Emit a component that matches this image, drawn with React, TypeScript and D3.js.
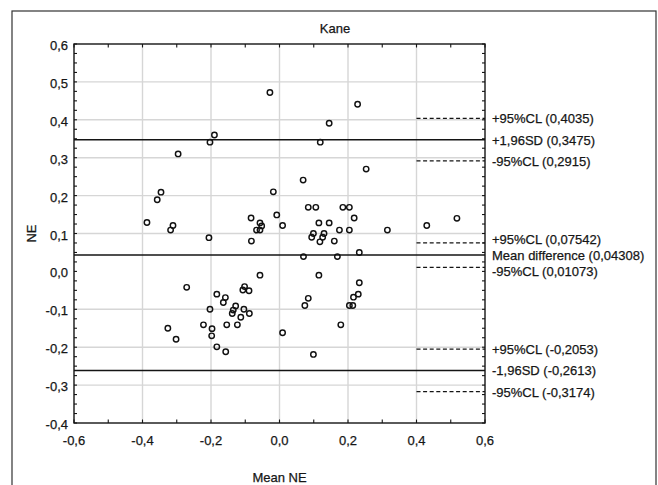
import React, { useEffect, useRef } from 'react';
import * as d3 from 'd3';

const W = 658;
const H = 485;

const title = 'Kane';
const xLabel = 'Mean NE';
const yLabel = 'NE';

const xTicks = [-0.6, -0.4, -0.2, 0, 0.2, 0.4, 0.6];
const yTicks = [-0.4, -0.3, -0.2, -0.1, 0, 0.1, 0.2, 0.3, 0.4, 0.5, 0.6];

// mean of the two measurements
const meanNE = [
  -0.028, 0.228, 0.145, -0.19, -0.203, 0.119, -0.296, 0.253, 0.069, -0.346,
  -0.018, -0.357, 0.084, 0.106, 0.185, 0.204, -0.008, 0.218, -0.083, 0.518,
  -0.387, 0.115, 0.145, -0.057, -0.311, -0.052, 0.009, 0.43, -0.318, -0.067,
  -0.057, 0.175, 0.204, 0.315, 0.099, 0.13, 0.094, 0.126, -0.206, -0.082,
  0.118, 0.16, 0.233, 0.07, 0.169,
  -0.057, 0.115, 0.233, -0.271, -0.102, -0.107, -0.089, -0.183, 0.23, -0.158,
  0.216, 0.084, -0.164, 0.074, 0.204, 0.214, -0.128, -0.203, -0.104, -0.135,
  -0.138, -0.088, -0.113, -0.222, -0.154, -0.123, 0.179, -0.326, -0.197, 0.009,
  -0.198, -0.302, -0.183, -0.157, 0.099,
];
// difference
const diffNE = [
  0.472, 0.441, 0.391, 0.36, 0.341, 0.341, 0.31, 0.27, 0.241, 0.209,
  0.21, 0.189, 0.169, 0.169, 0.169, 0.169, 0.149, 0.141, 0.141, 0.14,
  0.129, 0.128, 0.128, 0.128, 0.121, 0.12, 0.121, 0.121, 0.109, 0.109,
  0.109, 0.109, 0.109, 0.109, 0.1, 0.1, 0.09, 0.09, 0.089, 0.08,
  0.078, 0.08, 0.05, 0.039, 0.039,
  -0.01, -0.01, -0.03, -0.042, -0.04, -0.049, -0.051, -0.06, -0.06, -0.069,
  -0.068, -0.071, -0.082, -0.09, -0.09, -0.09, -0.091, -0.1, -0.1, -0.102,
  -0.111, -0.111, -0.121, -0.141, -0.141, -0.141, -0.141, -0.15, -0.151, -0.162,
  -0.17, -0.179, -0.199, -0.212, -0.219,
];

// solid lines
const limitNames = ['+1,96SD', 'Mean difference', '-1,96SD'];
const limitValues = [0.3475, 0.04308, -0.2613];
// dashed confidence lines
const clNames = ['+95%CL', '-95%CL', '+95%CL', '-95%CL', '+95%CL', '-95%CL'];
const clValues = [0.4035, 0.2915, 0.07542, 0.01073, -0.2053, -0.3174];

const font = '"Liberation Sans", Arial, sans-serif';
const textColor = '#161616';
const lineColor = '#141414';
const gridColor = '#d6d6d6';

const fmtTick = (v: number) => v.toFixed(1).replace('.', ',');
const fmtVal = (v: number) => String(v).replace('.', ',');

// spread labels that sit too close together, keeping each group's centre
function spreadLabels(ys: number[], gap: number) {
  const order = ys.map((v, i) => i).sort((a, b) => ys[a] - ys[b]);
  const out = ys.slice();
  let group: number[] = [order[0]];
  const flush = () => {
    const mean = d3.mean(group, i => ys[i]) as number;
    const start = mean - (gap * (group.length - 1)) / 2;
    group.forEach((idx, k) => { out[idx] = group.length > 1 ? start + k * gap : ys[idx]; });
  };
  for (let k = 1; k < order.length; k++) {
    if (ys[order[k]] - ys[order[k - 1]] < gap) group.push(order[k]);
    else { flush(); group = [order[k]]; }
  }
  flush();
  return out;
}

export default function App() {
  const ref = useRef<SVGSVGElement>(null);

  useEffect(() => {
    const svg = d3.select(ref.current);
    svg.selectAll('*').remove();

    const left = 74, right = 485, top = 44, bottom = 423;
    const x = d3.scaleLinear().domain([-0.6, 0.6]).range([left, right]);
    const y = d3.scaleLinear().domain([-0.4, 0.6]).range([bottom, top]);

    svg.append('rect').attr('width', W).attr('height', H).attr('fill', '#fff');
    // outer frame
    svg.append('rect')
      .attr('x', 12).attr('y', 11)
      .attr('width', 644).attr('height', 490)
      .attr('fill', 'none').attr('stroke', '#333').attr('stroke-width', 1.2);

    // grid
    const grid = svg.append('g').attr('stroke', gridColor).attr('stroke-width', 1.4);
    grid.selectAll('line.gx').data(xTicks.slice(1, -1)).enter().append('line')
      .attr('x1', d => x(d)).attr('x2', d => x(d))
      .attr('y1', top).attr('y2', bottom);
    grid.selectAll('line.gy').data(yTicks.slice(1, -1).filter(d => d !== 0)).enter().append('line')
      .attr('y1', d => y(d)).attr('y2', d => y(d))
      .attr('x1', left).attr('x2', right);

    // dashed CL lines
    svg.append('g').selectAll('line').data(clValues).enter().append('line')
      .attr('x1', x(0.4)).attr('x2', right)
      .attr('y1', d => y(d)).attr('y2', d => y(d))
      .attr('stroke', lineColor).attr('stroke-width', 1.2)
      .attr('stroke-dasharray', '4,2.6');

    // solid limit lines
    svg.append('g').selectAll('line').data(limitValues).enter().append('line')
      .attr('x1', left).attr('x2', right)
      .attr('y1', d => y(d)).attr('y2', d => y(d))
      .attr('stroke', lineColor).attr('stroke-width', 1.5);

    // points
    svg.append('g').selectAll('circle').data(meanNE).enter().append('circle')
      .attr('cx', d => x(d))
      .attr('cy', (d, i) => y(diffNE[i]))
      .attr('r', 2.7)
      .attr('fill', 'none')
      .attr('stroke', '#111')
      .attr('stroke-width', 1.45);

    // plot frame
    svg.append('rect')
      .attr('x', left).attr('y', top)
      .attr('width', right - left).attr('height', bottom - top)
      .attr('fill', 'none').attr('stroke', lineColor).attr('stroke-width', 1.4);

    // inner ticks
    const tk = svg.append('g').attr('stroke', lineColor).attr('stroke-width', 1.1);
    const yMinor = d3.range(-0.4, 0.6001, 0.025);
    const xMinor = d3.range(-0.6, 0.6001, 0.1);
    tk.selectAll('line.l').data(yMinor).enter().append('line')
      .attr('x1', left).attr('x2', left + 3)
      .attr('y1', d => y(d)).attr('y2', d => y(d));
    tk.selectAll('line.r').data(yMinor).enter().append('line')
      .attr('x1', right).attr('x2', right - 3)
      .attr('y1', d => y(d)).attr('y2', d => y(d));
    tk.selectAll('line.t').data(xMinor).enter().append('line')
      .attr('y1', top).attr('y2', top + 3.5)
      .attr('x1', d => x(d)).attr('x2', d => x(d));
    tk.selectAll('line.b').data(xMinor).enter().append('line')
      .attr('y1', bottom).attr('y2', bottom - 3.5)
      .attr('x1', d => x(d)).attr('x2', d => x(d));

    const txt = svg.append('g')
      .attr('font-family', font).attr('font-size', 13).attr('fill', textColor)
      .attr('stroke', textColor).attr('stroke-width', 0.25);

    // tick labels
    txt.selectAll('text.yt').data(yTicks).enter().append('text')
      .attr('x', left - 6).attr('y', d => y(d) + 6)
      .attr('text-anchor', 'end')
      .text(d => fmtTick(d));
    txt.selectAll('text.xt').data(xTicks).enter().append('text')
      .attr('x', d => x(d)).attr('y', 445)
      .attr('text-anchor', 'middle')
      .text(d => fmtTick(d));

    // right-side labels, nudged apart where lines are close
    const labels = [
      ...clValues.map((v, i) => ({ v, text: `${clNames[i]} (${fmtVal(v)})` })),
      ...limitValues.map((v, i) => ({ v, text: `${limitNames[i]} (${fmtVal(v)})` })),
    ];
    const ly = spreadLabels(labels.map(d => y(d.v)), 16);
    txt.selectAll('text.lab').data(labels).enter().append('text')
      .attr('x', right + 7).attr('y', (d, i) => ly[i] + 5)
      .text(d => d.text);

    // titles
    txt.append('text').attr('x', 335).attr('y', 33)
      .attr('text-anchor', 'middle').text(title);
    txt.append('text').attr('x', (left + right) / 2).attr('y', 482)
      .attr('text-anchor', 'middle').text(xLabel);
    txt.append('text')
      .attr('transform', `translate(35.5 ${(top + bottom) / 2}) rotate(-90)`)
      .attr('text-anchor', 'middle').text(yLabel);
  }, []);

  return (
    <svg
      ref={ref}
      width={W}
      height={H}
      style={{ position: 'absolute', left: 0, top: 0, display: 'block' }}
    />
  );
}
